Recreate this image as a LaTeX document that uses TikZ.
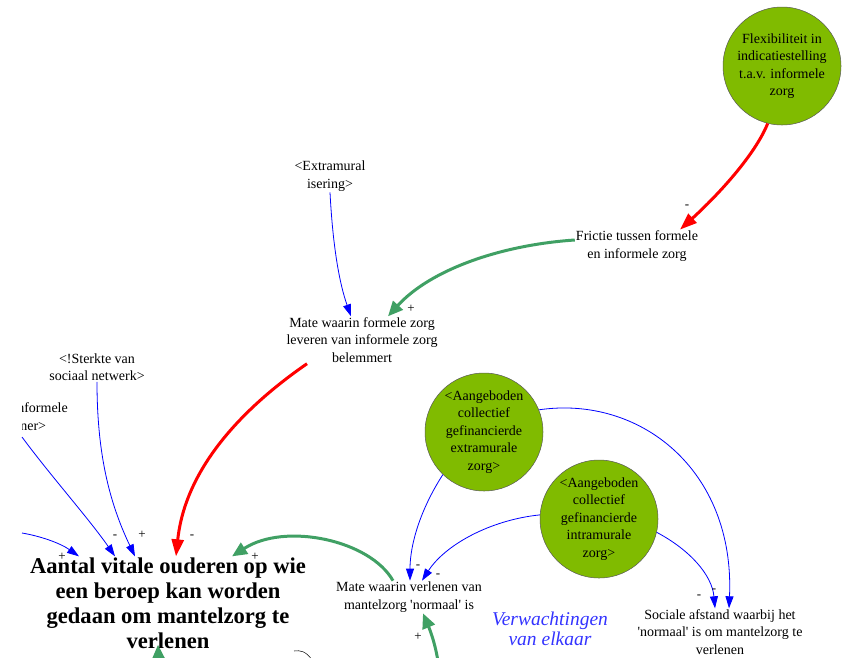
\documentclass[tikz,border=0pt]{standalone}
\usepackage{fontspec}
\setmainfont{Liberation Serif}[Ligatures=TeXOff]
\usetikzlibrary{arrows.meta}
\definecolor{vfill}{RGB}{128,187,0}
\definecolor{vgreen}{RGB}{64,160,100}
\definecolor{vblue}{RGB}{0,0,255}
\definecolor{vred}{RGB}{255,0,0}
\definecolor{vtitle}{RGB}{51,51,255}
\begin{document}
\begin{tikzpicture}[x=1pt,y=-1pt,
  txt/.style={align=center, inner sep=1pt, font=\fontsize{14}{17.5}\selectfont},
  circ/.style={circle, fill=vfill, draw=black!65, line width=0.5pt, minimum size=118pt, inner sep=0pt, align=center, font=\fontsize{14}{17.5}\selectfont},
  bluearr/.style={draw=vblue, line width=0.8pt, -{Triangle[length=12pt,width=8pt]}},
  redarr/.style={draw=vred, line width=3pt, -{Triangle[length=17pt,width=12pt]}},
  greenarr/.style={draw=vgreen, line width=3pt, -{Triangle[length=15pt,width=13pt]}},
  pol/.style={inner sep=0pt, font=\fontsize{13}{15}\selectfont},
]
\useasboundingbox (0,0) rectangle (848,657);
\clip (0,0) rectangle (848,657);

% nodes
\node[circ] (flex) at (782,66) {Flexibiliteit in\\indicatiestelling\\t.a.v. informele\\zorg};
\node[circ] (c1) at (484,432) {<Aangeboden\\collectief\\gefinancierde\\extramurale\\zorg>};
\node[circ] (c2) at (599,519) {<Aangeboden\\collectief\\gefinancierde\\intramurale\\zorg>};
\node[txt] (extr) at (330,176) {<Extramural\\isering>};
\node[txt] (frictie) at (637,246) {Frictie tussen formele\\en informele zorg};
\node[txt] (mateF) at (362,340) {Mate waarin formele zorg\\leveren van informele zorg\\belemmert};
\node[txt] (sterkte) at (97,367) {<!Sterkte van\\sociaal netwerk>};
\begin{scope}
\clip (22,0) rectangle (848,657);
\node[txt, anchor=east] (inf) at (69,418) {<Potentiële informele\\zorgverlener>};
\end{scope}
\node[txt] (mateV) at (409,597) {Mate waarin verlenen van\\mantelzorg 'normaal' is};
\node[txt] (sociale) at (720,632) {Sociale afstand waarbij het\\'normaal' is om mantelzorg te\\verlenen};
\node[txt, font=\fontsize{22.6}{25}\selectfont\bfseries] (title) at (168,603) {Aantal vitale ouderen op wie\\een beroep kan worden\\gedaan om mantelzorg te\\verlenen};
\node[txt, font=\fontsize{19.5}{20}\selectfont\itshape, text=vtitle] (verw) at (550,629) {Verwachtingen\\van elkaar};

% free ends
\coordinate (a1) at (22,437);
\coordinate (a2) at (22,533);
\coordinate (b1) at (439,668);
\coordinate (b2) at (160,700);
\coordinate (k1) at (294,651);
\coordinate (k2) at (312,660);

% connectors
\draw[redarr] (flex.256) .. controls (755,155) and (718,195) .. ([xshift=43pt]frictie.north);
\draw[greenarr] ([yshift=6pt]frictie.west) .. controls (500,245) and (430,270) .. ([xshift=26pt]mateF.north);
\draw[bluearr] (extr.south) .. controls (333,250) and (340,285) .. ([xshift=-11pt]mateF.north);
\draw[redarr] ([xshift=-55pt]mateF.south) .. controls (240,410) and (185,470) .. ([xshift=8pt]title.north);
\draw[bluearr] (sterkte.south) .. controls (97,450) and (108,500) .. ([xshift=-33pt]title.north);
\draw[bluearr] (a1) .. controls (50,475) and (90,520) .. ([xshift=-53pt]title.north);
\draw[bluearr] (a2) .. controls (40,536) and (60,543) .. ([xshift=-89pt]title.north);
\draw[greenarr] ([xshift=-16pt]mateV.north) .. controls (370,540) and (285,522) .. ([xshift=64pt]title.north);
\draw[bluearr] (c1.226) .. controls (420,510) and (410,545) .. ([xshift=1pt]mateV.north);
\draw[bluearr] (c2.176) .. controls (490,520) and (445,545) .. ([xshift=13pt]mateV.north);
\draw[bluearr] (c1.22) .. controls (640,395) and (735,470) .. ([xshift=9pt]sociale.north);
\draw[bluearr] (c2.-13) .. controls (690,550) and (712,575) .. ([xshift=-5pt]sociale.north);
\draw[greenarr] (b1) .. controls (436,645) and (430,630) .. ([xshift=14pt]mateV.south);
\draw[greenarr] (b2) -- ([xshift=-10pt,yshift=5pt]title.south);
\draw[black, line width=0.5pt] (k1) .. controls (300,650) and (306,651) .. (k2);

% polarity labels
\node[pol] (p1) at (687,207) {-};
\node[pol] (p2) at (411,309) {+};
\node[pol] (p3) at (192,537) {-};
\node[pol] (p4) at (142,535) {+};
\node[pol] (p5) at (115,537) {-};
\node[pol] (p6) at (62,557) {+};
\node[pol] (p7) at (255,557) {+};
\node[pol] (p8) at (418,567) {-};
\node[pol] (p9) at (438,576) {-};
\node[pol] (p10) at (418,637) {+};
\node[pol] (p11) at (699,597) {-};
\node[pol] (p12) at (714,591) {-};
\end{tikzpicture}
\end{document}
